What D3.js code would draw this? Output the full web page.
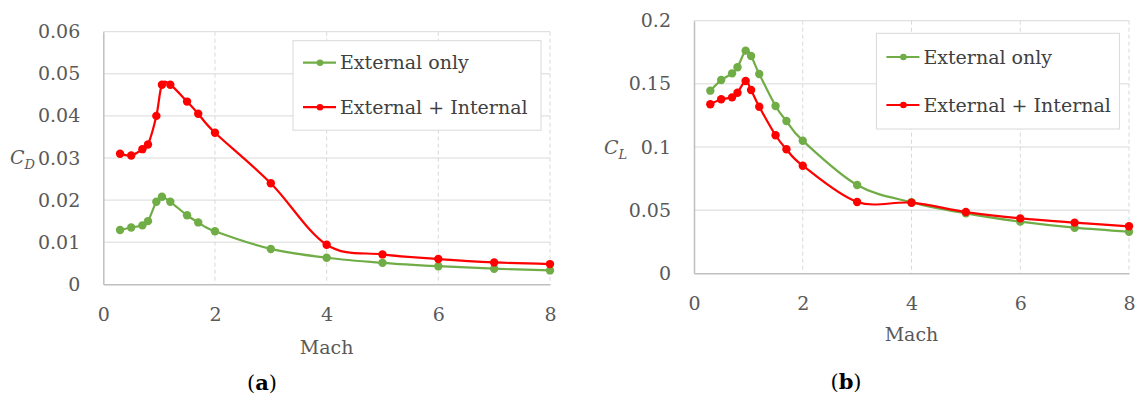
<!DOCTYPE html>
<html>
<head>
<meta charset="utf-8">
<script src="https://cdn.jsdelivr.net/npm/d3@7"></script>
<style>
  body { margin: 0; background: #fff; }
  svg { display: block; font-family: "DejaVu Serif", serif; }
</style>
</head>
<body>
<svg id="chart" width="1140" height="399"></svg>
<script>
// Mach numbers shared by both panels
const mach = [0.3, 0.5, 0.7, 0.8, 0.95, 1.05, 1.2, 1.5, 1.7, 2, 3, 4, 5, 6, 7, 8]

// (a) drag coefficient
const cdExternal = [0.0129, 0.0135, 0.0140, 0.0150, 0.0196, 0.0208, 0.0196, 0.0164, 0.0147, 0.0126, 0.0084, 0.0063, 0.0051, 0.0043, 0.0037, 0.0033]
const cdTotal = [0.0310, 0.0306, 0.0321, 0.0332, 0.0400, 0.0474, 0.0474, 0.0434, 0.0405, 0.0360, 0.0240, 0.0094, 0.0071, 0.0060, 0.0052, 0.0048]

// (b) lift coefficient
const clExternal = [0.1446, 0.1530, 0.1583, 0.1631, 0.1763, 0.1720, 0.1578, 0.1325, 0.1206, 0.1050, 0.0699, 0.0562, 0.0475, 0.0409, 0.0361, 0.0329]
const clTotal = [0.1338, 0.1378, 0.1393, 0.1430, 0.1523, 0.1451, 0.1319, 0.1093, 0.0982, 0.0852, 0.0565, 0.0559, 0.0485, 0.0435, 0.0401, 0.0372]

const xTicks = [0, 2, 4, 6, 8]
const cdTicks = [0, 0.01, 0.02, 0.03, 0.04, 0.05, 0.06]
const clTicks = [0, 0.05, 0.1, 0.15, 0.2]
const seriesNames = ['External only', 'External + Internal']
const colors = ['#70ad47', '#ff0000']

const svg = d3.select('#chart')

let drawPanel = function(p) {
    let x = d3.scaleLinear().domain([0, 8]).range([p.left, p.right])
    let y = d3.scaleLinear().domain([0, p.yMax]).range([p.bottom, p.top])
    let g = svg.append('g')

    // horizontal grid
    g.selectAll('.hgrid').data(p.yTicks.slice(1)).enter().append('line')
        .attr('x1', p.left).attr('x2', p.right)
        .attr('y1', d => y(d)).attr('y2', d => y(d))
        .attr('stroke', '#d9d9d9').attr('stroke-width', 1)

    // vertical dashed grid
    g.selectAll('.vgrid').data(xTicks.slice(1)).enter().append('line')
        .attr('x1', d => x(d)).attr('x2', d => x(d))
        .attr('y1', p.top).attr('y2', p.bottom)
        .attr('stroke', '#d9d9d9').attr('stroke-width', 1)
        .attr('stroke-dasharray', '4,3')

    // axes
    let xAxis = d3.axisBottom(x).tickValues(xTicks).tickSize(0).tickPadding(20).tickFormat(d3.format('d'))
    let yAxis = d3.axisLeft(y).tickValues(p.yTicks).tickSize(0).tickPadding(p.yPad).tickFormat(d => d === 0 ? '0' : String(d))

    let gx = g.append('g').attr('transform', `translate(0,${p.bottom})`).call(xAxis)
    let gy = g.append('g').attr('transform', `translate(${p.left},0)`).call(yAxis)
    for (let a of [gx, gy]) {
        a.select('.domain').attr('stroke', '#bfbfbf').attr('stroke-width', 1.5)
        a.selectAll('text').attr('fill', '#595959').style('font-size', '19px').style('font-family', '"DejaVu Serif", serif')
    }
    gx.selectAll('text').attr('dy', '0.9em')

    // axis titles
    g.append('text').attr('x', (p.left + p.right) / 2).attr('y', p.machY)
        .attr('text-anchor', 'middle').attr('fill', '#595959').style('font-size', '19px')
        .text('Mach')

    let yt = g.append('text').attr('x', p.yLabelX).attr('y', p.yLabelY)
        .attr('fill', '#595959').style('font-size', '19px').style('font-style', 'italic')
    yt.append('tspan').text('C')
    yt.append('tspan').attr('dy', 5).style('font-size', '13px').text(p.sub)

    // panel caption
    let cap = g.append('text').attr('x', p.capX).attr('y', p.capY)
        .attr('text-anchor', 'middle').attr('fill', '#000').style('font-size', '21px')
    cap.append('tspan').text('(')
    cap.append('tspan').style('font-weight', 'bold').text(p.cap)
    cap.append('tspan').text(')')

    // series
    let line = d3.line()
        .x(d => x(d[0]))
        .y(d => y(d[1]))
        .curve(d3.curveCatmullRom.alpha(0))

    p.series.forEach((vals, i) => {
        let pts = mach.map((m, j) => [m, vals[j]])
        g.append('path').datum(pts)
            .attr('d', line)
            .attr('fill', 'none')
            .attr('stroke', colors[i])
            .attr('stroke-width', 2.2)
        g.selectAll('.dot' + i).data(pts).enter().append('circle')
            .attr('cx', d => x(d[0])).attr('cy', d => y(d[1]))
            .attr('r', 4.2)
            .attr('fill', colors[i])
    })

    // legend
    let lg = g.append('g')
    lg.append('rect')
        .attr('x', p.legX).attr('y', p.legY)
        .attr('width', p.legW).attr('height', p.legH)
        .attr('fill', '#fff').attr('stroke', '#d9d9d9')
    seriesNames.forEach((name, i) => {
        let cy = p.legY + p.legRow0 + i * p.legStep
        lg.append('line')
            .attr('x1', p.legX + 10).attr('x2', p.legX + 43)
            .attr('y1', cy).attr('y2', cy)
            .attr('stroke', colors[i]).attr('stroke-width', 2.2)
        lg.append('circle').attr('cx', p.legX + 27).attr('cy', cy).attr('r', 3.3).attr('fill', colors[i])
        lg.append('text').attr('x', p.legX + 47).attr('y', cy).attr('dy', '0.35em')
            .attr('fill', '#404040').style('font-size', '19px')
            .text(name)
    })
}

drawPanel({
    left: 103.3, right: 550, top: 31.7, bottom: 284.3,
    yMax: 0.06, yTicks: cdTicks, yPad: 23,
    series: [cdExternal, cdTotal],
    sub: 'D', yLabelX: 10, yLabelY: 164,
    machY: 354, capX: 262, capY: 390, cap: 'a',
    legX: 293, legY: 40.7, legW: 248, legH: 89.5, legRow0: 22, legStep: 44.5
})

drawPanel({
    left: 694, right: 1129, top: 20.7, bottom: 273.3,
    yMax: 0.2, yTicks: clTicks, yPad: 23,
    series: [clExternal, clTotal],
    sub: 'L', yLabelX: 604, yLabelY: 154,
    machY: 341, capX: 846, capY: 389, cap: 'b',
    legX: 876.4, legY: 33.3, legW: 243, legH: 95.7, legRow0: 23.7, legStep: 48
})
</script>
</body>
</html>
